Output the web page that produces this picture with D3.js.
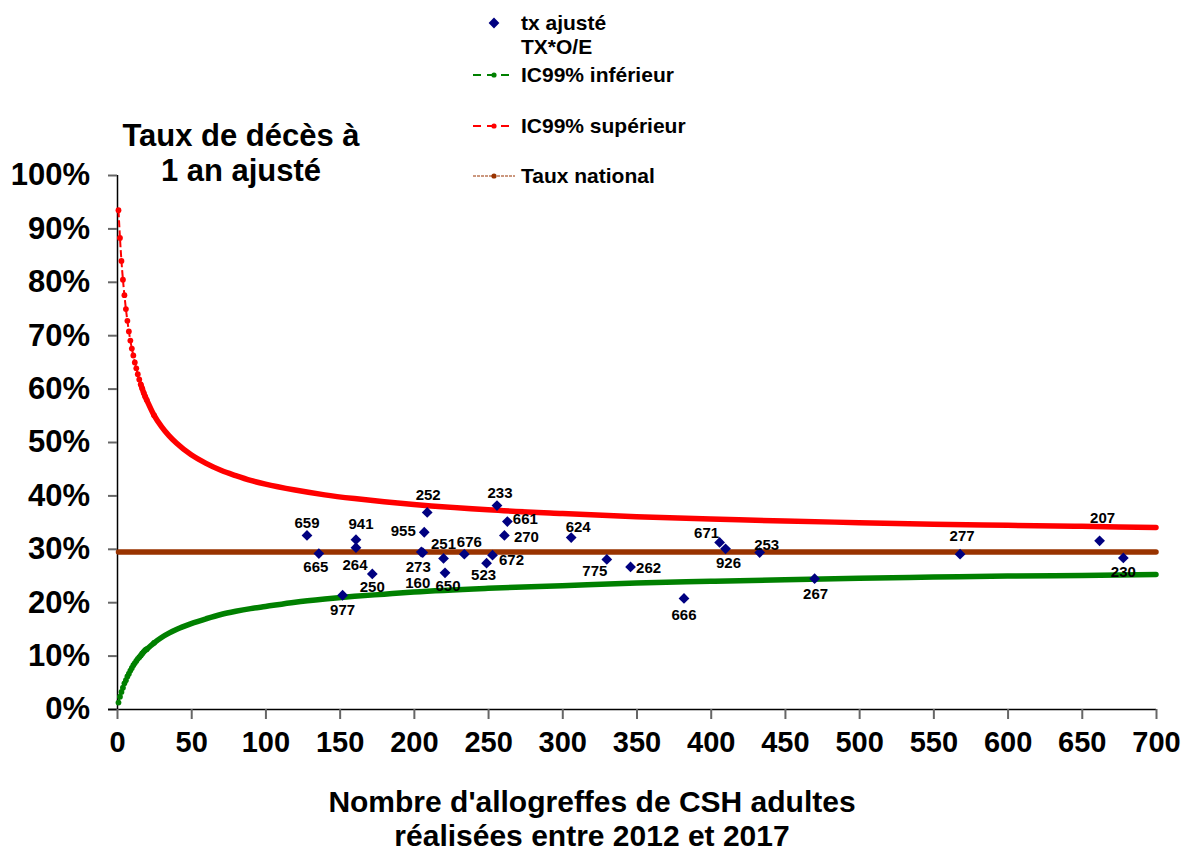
<!DOCTYPE html>
<html lang="fr">
<head>
<meta charset="utf-8">
<title>Taux de décès à 1 an ajusté</title>
<script src="https://cdn.jsdelivr.net/npm/d3@7"></script>
<style>
  html, body { margin: 0; padding: 0; background: #fff; }
  svg { display: block; font-family: "Liberation Sans", Arial, sans-serif; font-weight: bold; }
</style>
</head>
<body>
<svg id="chart" width="1184" height="852"></svg>
<script>
// Centres: identifiant, nombre d'allogreffes, taux ajusté
const centreLabels = ["659","665","941","264","250","977","955","252","273","160","650","251","676","523","672",
                      "233","661","270","624","775","262","666","671","926","253","267","277","207","230"];
const centreCounts = [128,136,161,161,172,152,207,209,205,206,221,220,234,249,253,
                      256,263,261,306,330,346,382,406,410,433,470,568,662,678];
const centreRates  = [0.325,0.291,0.317,0.302,0.253,0.213,0.331,0.368,0.294,0.293,0.255,0.282,0.290,0.273,0.288,
                      0.381,0.351,0.325,0.321,0.280,0.266,0.207,0.312,0.300,0.293,0.244,0.290,0.315,0.283];

// Bornes de l'intervalle de confiance à 99 % selon le nombre de greffes
const ciCounts = [1,2,3,4,5,6,7,8,9,10,11,12,13,14,15,16,17,18,19,20,25,30,35,40,50,60,70,80,90,100,
                  120,140,160,180,200,250,300,350,400,450,500,550,600,650,700];
const ciLower  = [0.012,0.023,0.032,0.040,0.048,0.054,0.061,0.066,0.072,0.077,0.082,0.086,0.090,0.094,0.097,
                  0.100,0.104,0.107,0.110,0.112,0.124,0.134,0.142,0.149,0.160,0.169,0.177,0.183,0.188,0.192,
                  0.200,0.206,0.211,0.215,0.219,0.226,0.231,0.236,0.239,0.242,0.245,0.247,0.249,0.250,0.252];
const ciUpper  = [0.934,0.882,0.839,0.804,0.775,0.749,0.727,0.707,0.690,0.675,0.662,0.649,0.638,0.627,0.617,
                  0.608,0.600,0.592,0.585,0.579,0.550,0.529,0.512,0.498,0.476,0.460,0.447,0.437,0.428,0.421,
                  0.410,0.401,0.394,0.388,0.383,0.373,0.366,0.360,0.356,0.352,0.349,0.346,0.344,0.342,0.340];

// Taux national, tracé sur toute l'étendue de l'axe
const nationalRate = 0.294;
const nationalRange = [1, 700];

const xTickValues = [0,50,100,150,200,250,300,350,400,450,500,550,600,650,700];
const yTickValues = [0,0.1,0.2,0.3,0.4,0.5,0.6,0.7,0.8,0.9,1.0];

// Placement des étiquettes de centre (décalage en px par rapport au point)
const labelOffsets = {
  "659":[0,-7], "665":[-3,18], "941":[5,-11], "264":[-1,22], "250":[0,18], "977":[0,20],
  "955":[-21,4], "252":[1,-12], "273":[-3,20], "160":[-5,35], "650":[3,18], "251":[0,-9],
  "676":[5,-7], "523":[-3,17], "672":[19,10], "233":[3,-8], "661":[18,2], "270":[22,7],
  "624":[7,-6], "775":[-12,17], "262":[18,6], "666":[0,22], "671":[-13,-4], "926":[3,19],
  "253":[7,-3], "267":[1,20], "277":[2,-13], "207":[3,-18], "230":[0,19]
};

const svg = d3.select("#chart");
const plot = { left: 117, right: 1156, top: 175, bottom: 709 };

const x = d3.scaleLinear().domain([0, 700]).range([plot.left, plot.right]);
const y = d3.scaleLinear().domain([0, 1]).range([plot.bottom, plot.top]);

const RED = "#ff0000", GREEN = "#008000", BROWN = "#993300", NAVY = "#000080";

// Axes
const yAxis = svg.append("g")
  .attr("transform", `translate(${plot.left},0)`)
  .call(d3.axisLeft(y).tickValues(yTickValues).tickFormat(d3.format(".0%")).tickSize(9).tickPadding(18));
const xAxis = svg.append("g")
  .attr("transform", `translate(0,${plot.bottom})`)
  .call(d3.axisBottom(x).tickValues(xTickValues).tickFormat(d3.format("d")).tickSize(10).tickPadding(12));

[yAxis, xAxis].forEach(g => {
  g.select(".domain").attr("stroke", "#000").attr("stroke-width", 1.5);
  g.selectAll(".tick line").attr("stroke", "#666").attr("stroke-width", 2);
  g.selectAll(".tick text").attr("fill", "#000")
    .attr("font-family", "'Liberation Sans', Arial, sans-serif").attr("font-weight", "bold");
});
yAxis.selectAll(".tick text").attr("font-size", 31);
xAxis.selectAll(".tick text").attr("font-size", 29);
xAxis.select(".domain").attr("d", `M${plot.left - 9},0.5H${plot.right}`);
yAxis.select(".domain").attr("d", `M0.5,${plot.top}V${plot.bottom}`);

// Courbes de l'intervalle de confiance
const ciData = (vals) => ciCounts.map((n, i) => ({ n, v: vals[i] }));
const line = d3.line().x(d => x(d.n)).y(d => y(d.v)).curve(d3.curveMonotoneX);

function drawCI(vals, color) {
  const data = ciData(vals);
  const g = svg.append("g");
  g.append("path").datum(data).attr("d", line)
    .attr("fill", "none").attr("stroke", color).attr("stroke-width", 2).attr("stroke-dasharray", "7,3");
  // marqueurs serrés : trait plein épais là où ils se chevauchent
  g.append("path").datum(data.filter(d => d.n >= 16)).attr("d", line)
    .attr("fill", "none").attr("stroke", color).attr("stroke-width", 5.5).attr("stroke-linecap", "round");
  g.selectAll("circle").data(data.filter(d => d.n < 30)).join("circle")
    .attr("cx", d => x(d.n)).attr("cy", d => y(d.v)).attr("r", 2.9).attr("fill", color);
}
drawCI(ciUpper, RED);
drawCI(ciLower, GREEN);

// Taux national
svg.append("line")
  .attr("x1", x(nationalRange[0])).attr("x2", x(nationalRange[1]))
  .attr("y1", y(nationalRate)).attr("y2", y(nationalRate))
  .attr("stroke", BROWN).attr("stroke-width", 5.5).attr("stroke-linecap", "round");

// Centres
const diamond = d3.symbol().type(d3.symbolSquare).size(58);
const centres = centreLabels.map((label, i) => ({ label, n: centreCounts[i], v: centreRates[i] }));
svg.append("g").selectAll("path").data(centres).join("path")
  .attr("d", diamond)
  .attr("transform", d => `translate(${x(d.n)},${y(d.v)}) rotate(45)`)
  .attr("fill", NAVY);

svg.append("g").selectAll("text").data(centres).join("text")
  .attr("x", d => x(d.n) + labelOffsets[d.label][0])
  .attr("y", d => y(d.v) + labelOffsets[d.label][1])
  .attr("text-anchor", "middle").attr("font-size", 15).attr("fill", "#000")
  .text(d => d.label);

// Titre
const title = svg.append("text").attr("text-anchor", "middle").attr("font-size", 31).attr("fill", "#000");
title.append("tspan").attr("x", 241).attr("y", 146).text("Taux de décès à");
title.append("tspan").attr("x", 241).attr("y", 181).text("1 an ajusté");

// Titre de l'axe horizontal
const xTitle = svg.append("text").attr("text-anchor", "middle").attr("font-size", 30).attr("fill", "#000");
xTitle.append("tspan").attr("x", 592).attr("y", 812).text("Nombre d'allogreffes de CSH adultes");
xTitle.append("tspan").attr("x", 592).attr("y", 845.5).text("réalisées entre 2012 et 2017");

// Légende
const legend = svg.append("g").attr("font-size", 21).attr("fill", "#000");
const lx0 = 473, lx1 = 515, lmid = 494, tx = 521;
legend.append("path").attr("d", diamond).attr("transform", `translate(${lmid},23) rotate(45)`).attr("fill", NAVY);
legend.append("text").attr("x", tx).attr("y", 30).text("tx ajusté");
legend.append("text").attr("x", tx).attr("y", 54).text("TX*O/E");

[[75, GREEN, "IC99% inférieur", "8,6", 1.8], [126, RED, "IC99% supérieur", "8,6", 1.8], [176, BROWN, "Taux national", "3,1", 1.2]]
  .forEach(([ly, color, label, dash, w]) => {
    legend.append("line").attr("x1", lx0).attr("x2", lx1).attr("y1", ly).attr("y2", ly)
      .attr("stroke", color).attr("stroke-width", w).attr("stroke-dasharray", dash);
    legend.append("circle").attr("cx", lmid).attr("cy", ly).attr("r", 2.6).attr("fill", color);
    legend.append("text").attr("x", tx).attr("y", ly + 7).text(label);
  });
</script>
</body>
</html>
